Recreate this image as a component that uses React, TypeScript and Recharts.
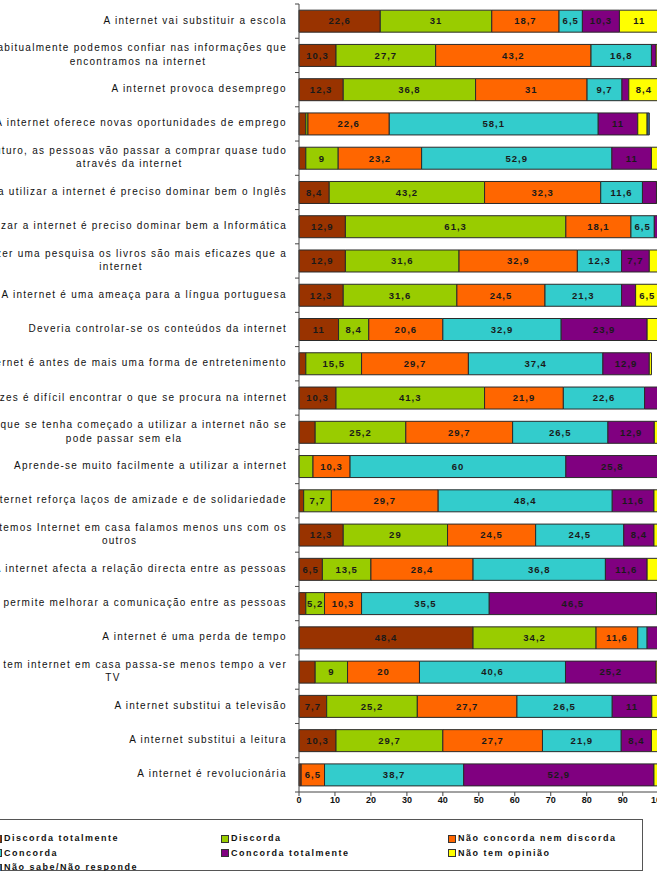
import { Bar, BarChart, LabelList, Legend, XAxis, YAxis } from 'recharts';

const categories = [
  'A internet vai substituir a escola',
  'Habitualmente podemos confiar nas informações que\nencontramos na internet',
  'A internet provoca desemprego',
  'A internet oferece novas oportunidades de emprego',
  'No futuro, as pessoas vão passar a comprar quase tudo\natravés da internet',
  'Para utilizar a internet é preciso dominar bem o Inglês',
  'Para utilizar a internet é preciso dominar bem a Informática',
  'Para fazer uma pesquisa os livros são mais eficazes que a\ninternet',
  'A internet é uma ameaça para a língua portuguesa',
  'Deveria controlar-se os conteúdos da internet',
  'A internet é antes de mais uma forma de entretenimento',
  'Muitas vezes é difícil encontrar o que se procura na internet',
  'Desde que se tenha começado a utilizar a internet não se\npode passar sem ela',
  'Aprende-se muito facilmente a utilizar a internet',
  'A internet reforça laços de amizade e de solidariedade',
  'Quando temos Internet em casa falamos menos uns com os\noutros',
  'A internet afecta a relação directa entre as pessoas',
  'A internet permite melhorar a comunicação entre as pessoas',
  'A internet é uma perda de tempo',
  'Quando se tem internet em casa passa-se menos tempo a ver\nTV',
  'A internet substitui a televisão',
  'A internet substitui a leitura',
  'A internet é revolucionária',
];

const discordaTotalmente = [22.6, 10.3, 12.3, 1.9, 1.9, 8.4, 12.9, 12.9, 12.3, 11, 1.9, 10.3, 4.5, 0, 1.3, 12.3, 6.5, 1.9, 48.4, 4.5, 7.7, 10.3, 0.6];
const discorda = [31, 27.7, 36.8, 0.6, 9, 43.2, 61.3, 31.6, 31.6, 8.4, 15.5, 41.3, 25.2, 3.9, 7.7, 29, 13.5, 5.2, 34.2, 9, 25.2, 29.7, 0];
const nemNem = [18.7, 43.2, 31, 22.6, 23.2, 32.3, 18.1, 32.9, 24.5, 20.6, 29.7, 21.9, 29.7, 10.3, 29.7, 24.5, 28.4, 10.3, 11.6, 20, 27.7, 27.7, 6.5];
const concorda = [6.5, 16.8, 9.7, 58.1, 52.9, 11.6, 6.5, 12.3, 21.3, 32.9, 37.4, 22.6, 26.5, 60, 48.4, 24.5, 36.8, 35.5, 2.6, 40.6, 26.5, 21.9, 38.7];
const concordaTotalmente = [10.3, 1.3, 1.9, 11, 11, 3.9, 1.3, 7.7, 3.9, 23.9, 12.9, 3.9, 12.9, 25.8, 11.6, 8.4, 11.6, 46.5, 3.2, 25.2, 11, 8.4, 52.9];
const semOpiniao = [11, 0.6, 8.4, 2.6, 1.9, 0.6, 0, 2.6, 6.5, 3.2, 0.6, 0, 1.3, 0, 1.3, 1.3, 3.2, 0.6, 0, 0.6, 1.9, 1.9, 1.3];
const naoSabe = [0, 0, 0, 0.6, 0, 0, 0, 0, 0, 0, 0, 0, 0, 0, 0, 0, 0, 0, 0, 0, 0, 0, 0];

const seriesNames = [
  'Discorda totalmente',
  'Discorda',
  'Não concorda nem discorda',
  'Concorda',
  'Concorda totalmente',
  'Não tem opinião',
  'Não sabe/Não responde',
];
const seriesColors = ['#993300', '#99cc00', '#ff6600', '#33cccc', '#800080', '#ffff00', '#336699'];
const seriesValues = [discordaTotalmente, discorda, nemNem, concorda, concordaTotalmente, semOpiniao, naoSabe];
const xTicks = [0, 10, 20, 30, 40, 50, 60, 70, 80, 90, 100];

const data = categories.map((name, i) => {
  const row: Record<string, string | number> = { name };
  seriesValues.forEach((vals, s) => {
    row[`s${s}`] = vals[i];
  });
  return row;
});

const FONT = '"Liberation Sans", Arial, sans-serif';
const CAT_SIZE = 10;
const CAT_SPACING = 1.25;
const LINE_H = 13.5;
const PLOT_TOP = 4;
const PLOT_H = 788;
const BAND = PLOT_H / categories.length;

let ctx: CanvasRenderingContext2D | null = null;
function textWidth(t: string) {
  if (!ctx) ctx = document.createElement('canvas').getContext('2d');
  if (!ctx) return t.length * 6;
  ctx.font = `${CAT_SIZE}px ${FONT}`;
  return ctx.measureText(t).width + CAT_SPACING * t.length;
}

function CategoryTick(props: any) {
  const { x, y, payload, index } = props;
  const lines = String(payload.value).split('\n');
  const block = Math.max(...lines.map(textWidth));
  const cx = x - block / 2;
  const axisX = x + 12;
  const half = BAND / 2;
  const y0 = y - ((lines.length - 1) * LINE_H) / 2 - 1;
  return (
    <g>
      <line x1={axisX - 4} x2={axisX} y1={y - half} y2={y - half} stroke="#444" />
      {index === categories.length - 1 && (
        <line x1={axisX - 4} x2={axisX} y1={y + half} y2={y + half} stroke="#444" />
      )}
      <text
        x={cx}
        y={y0}
        textAnchor="middle"
        fontFamily={FONT}
        fontSize={CAT_SIZE}
        letterSpacing={CAT_SPACING}
        fill="#111"
      >
        {lines.map((l, i) => (
          <tspan key={i} x={cx} dy={i === 0 ? '0.35em' : LINE_H}>
            {l}
          </tspan>
        ))}
      </text>
    </g>
  );
}

function SegmentLabel(props: any) {
  const { x, y, width, height, value } = props;
  if (value == null || value < 5) return null;
  return (
    <text
      x={x + width / 2}
      y={y + height / 2}
      dy="0.35em"
      textAnchor="middle"
      fontFamily={FONT}
      fontSize={9.5}
      fontWeight="bold"
      letterSpacing={1}
      fill="#1a1a1a"
    >
      {String(value).replace('.', ',')}
    </text>
  );
}

function LegendBox() {
  return (
    <div
      style={{
        position: 'relative',
        width: 663,
        height: 52,
        border: '1px solid #555',
        boxSizing: 'border-box',
        background: '#fff',
        fontFamily: FONT,
        fontSize: 9,
        fontWeight: 'bold',
        letterSpacing: 1.5,
        color: '#111',
      }}
    >
      {seriesNames.map((n, i) => (
        <div
          key={n}
          style={{
            position: 'absolute',
            left: 13 + (i % 3) * 227,
            top: 11 + Math.floor(i / 3) * 14.5,
            height: 15,
            lineHeight: '15px',
            whiteSpace: 'nowrap',
            display: 'flex',
            alignItems: 'center',
          }}
        >
          <span
            style={{
              display: 'inline-block',
              width: 6,
              height: 6,
              background: seriesColors[i],
              border: '1px solid #333',
              marginRight: 2,
            }}
          />
          {n}
        </div>
      ))}
    </div>
  );
}

export default function App() {
  return (
    <div style={{ position: 'absolute', left: 0, top: 0, width: 657, height: 871, overflow: 'hidden', background: '#fff' }}>
      <div style={{ position: 'absolute', left: -100, top: 0 }}>
        <BarChart
          width={800}
          height={871}
          data={data}
          layout="vertical"
          barCategoryGap="18%"
          margin={{ top: PLOT_TOP, right: 41, bottom: 871 - PLOT_TOP - PLOT_H - 20, left: 0 }}
        >
          <XAxis
            type="number"
            domain={[0, 100]}
            ticks={xTicks}
            height={20}
            tickSize={4}
            tickMargin={1}
            axisLine={{ stroke: '#444' }}
            tickLine={{ stroke: '#444' }}
            tick={{ fontFamily: FONT, fontSize: 9, fontWeight: 'bold', fill: '#111' }}
          />
          <XAxis
            xAxisId="top"
            orientation="top"
            type="number"
            domain={[0, 100]}
            height={0}
            tick={false}
            tickLine={false}
            axisLine={{ stroke: '#999' }}
          />
          <YAxis
            type="category"
            dataKey="name"
            width={399}
            interval={0}
            tickLine={false}
            tickSize={0}
            tickMargin={12}
            axisLine={{ stroke: '#444' }}
            tick={<CategoryTick />}
          />
          <Legend
            layout="horizontal"
            verticalAlign="middle"
            align="center"
            wrapperStyle={{ position: 'absolute', left: 80, top: 819, width: 663 }}
            content={<LegendBox />}
          />
          {seriesNames.map((n, s) => (
            <Bar
              key={n}
              dataKey={`s${s}`}
              name={n}
              stackId="a"
              fill={seriesColors[s]}
              stroke="#2a2a2a"
              strokeWidth={1}
              isAnimationActive={false}
            >
              <LabelList dataKey={`s${s}`} content={<SegmentLabel />} />
            </Bar>
          ))}
        </BarChart>
      </div>
    </div>
  );
}
